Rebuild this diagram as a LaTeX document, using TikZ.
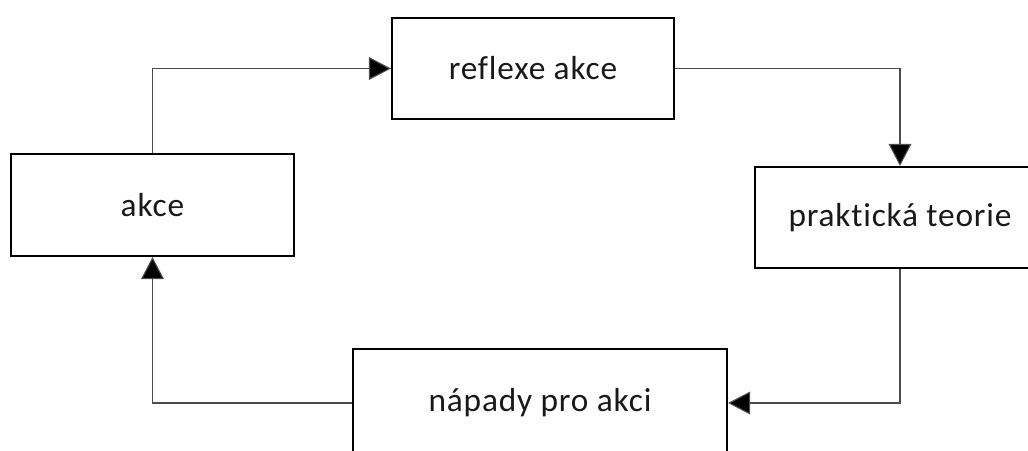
\documentclass[tikz,border=0pt]{standalone}
\usepackage{fontspec}
\setmainfont{Carlito}[LetterSpace=2.5, Ligatures=NoCommon]
\usetikzlibrary{arrows.meta}
\begin{document}
\begin{tikzpicture}[x=0.75pt,y=-0.75pt,
  box/.style={draw=black, fill=white, line width=1.6pt, inner sep=0pt,
    font=\fontsize{25}{29}\selectfont, text=black!90},
  link/.style={draw=black!70, line width=0.8pt,
    -{Triangle[length=16.5pt,width=17pt,fill=black]}}]
  \useasboundingbox (0,0) rectangle (1028,450);
  \fill[white] (0,0) rectangle (1028,450);
  \clip (0,0) rectangle (1028,450);

  % the four stages of the cycle
  \node[box, minimum width=211.5pt, minimum height=75.75pt] (refl) at (533,68.5) {reflexe akce};
  \node[box, minimum width=212.25pt, minimum height=76.5pt] (akce) at (152.5,205) {akce};
  \node[box, minimum width=217.5pt, minimum height=75.75pt] (teor) at (900,217.5) {praktická teorie};
  \node[box, minimum width=280.5pt, minimum height=81pt] (napad) at (540,403) {nápady pro akci};

  % connectors running round the cycle
  \draw[link] (akce.north) |- (refl.west);
  \draw[link] (refl.east) -| (teor.north);
  \draw[link] (teor.south) |- (napad.east);
  \draw[link] (napad.west) -| (akce.south);
\end{tikzpicture}
\end{document}
